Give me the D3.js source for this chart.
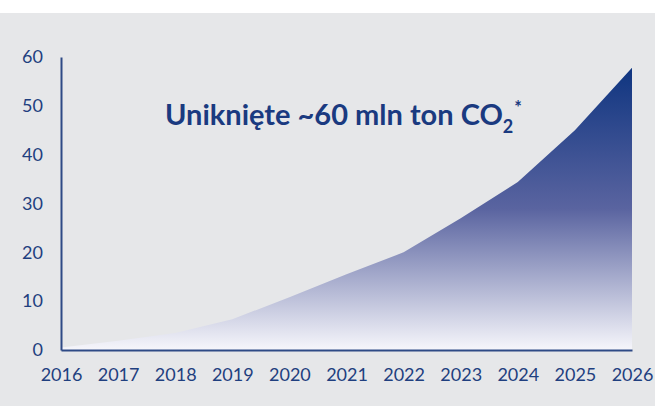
<!DOCTYPE html>
<html>
<head>
<meta charset="utf-8">
<script src="https://cdn.jsdelivr.net/npm/d3@7"></script>
<style>
  body { margin: 0; background: #fff; }
  svg { display: block; }
</style>
</head>
<body>
<svg id="chart" width="655" height="406"></svg>
<script>
var years = [2016, 2017, 2018, 2019, 2020, 2021, 2022, 2023, 2024, 2025, 2026];
var avoided = [0.5, 1.9, 3.5, 6.3, 10.8, 15.5, 20, 27, 34.4, 45, 57.8];
var yTicks = [0, 10, 20, 30, 40, 50, 60];
var title = "Uniknięte ~60 mln ton CO";

var svg = d3.select("#chart");
var W = 655, H = 406;
var margin = {left: 61, right: 23, top: 57, bottom: 56};

svg.append("rect").attr("x", 0).attr("y", 13).attr("width", W).attr("height", H - 13).attr("fill", "#e6e7e9");

var x = d3.scaleLinear().domain([2016, 2026]).range([margin.left, W - margin.right]);
var y = d3.scaleLinear().domain([0, 60]).range([H - margin.bottom, margin.top]);

var grad = svg.append("defs").append("linearGradient")
  .attr("id", "fillGrad").attr("x1", 0).attr("y1", 0).attr("x2", 0).attr("y2", 1);
grad.append("stop").attr("offset", "0%").attr("stop-color", "#0f3580");
grad.append("stop").attr("offset", "50%").attr("stop-color", "#5a64a0");
grad.append("stop").attr("offset", "100%").attr("stop-color", "#f6f6fb");

var area = d3.area()
  .x(function(d, i) { return x(years[i]); })
  .y0(y(0))
  .y1(function(d) { return y(d); });

svg.append("path").datum(avoided).attr("d", area).attr("fill", "url(#fillGrad)");

// axes
var font = "Lato, 'Open Sans', sans-serif";
var yAxis = svg.append("g").attr("transform", "translate(" + margin.left + ",0)")
  .call(d3.axisLeft(y).tickValues(yTicks).tickSize(0).tickPadding(18));
var xAxis = svg.append("g").attr("transform", "translate(0," + y(0) + ")")
  .call(d3.axisBottom(x).tickValues(years).tickFormat(d3.format("d")).tickSize(0).tickPadding(18));

[yAxis, xAxis].forEach(function(g) {
  g.select(".domain").attr("stroke", "#2e4a86").attr("stroke-width", 2);
  g.selectAll("text").attr("fill", "#1f3f7f").style("font-family", font).style("font-size", "18px");
});

var t = svg.append("text").attr("x", 165).attr("y", 125).attr("text-anchor", "start")
  .attr("fill", "#1a3a80").style("font-family", font).style("font-weight", "bold").style("font-size", "29px");
t.append("tspan").text(title);
t.append("tspan").text("2").style("font-size", "18px").attr("dy", 8);
t.append("tspan").text("*").style("font-size", "18px").attr("dy", -19).attr("dx", 1);
</script>
</body>
</html>
